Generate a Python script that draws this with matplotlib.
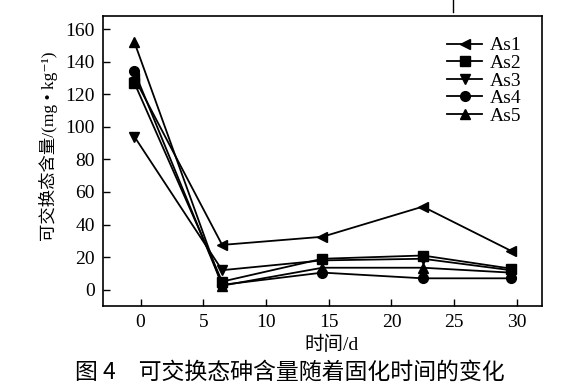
import matplotlib
matplotlib.use("Agg")
import matplotlib.pyplot as plt
from matplotlib.lines import Line2D

# curing time (d) and exchangeable As content (mg/kg)
days = [-0.5, 6.5, 14.5, 22.5, 29.5]
as1 = [130, 27.5, 32.5, 51, 24]
as2 = [127, 5, 19, 21, 13]
as3 = [94, 12, 18, 19, 12]
as4 = [134, 3, 10.5, 7, 7]
as5 = [152, 2.5, 13.5, 13.5, 10.5]
names = ["As1", "As2", "As3", "As4", "As5"]
markers = ["<", "s", "v", "o", "^"]

fams = ['Liberation Serif', 'Noto Sans CJK SC', 'DejaVu Serif']
plt.rcParams['font.family'] = fams

fig = plt.figure(figsize=(5.69, 3.88), dpi=100)
ax = fig.add_axes([0.181, 0.2113, 0.7715, 0.7475])

for vals, nm, mk in zip([as1, as2, as3, as4, as5], names, markers):
    ax.plot(days, vals, color='black', lw=1.3, marker=mk, ms=7, label=nm)

ax.set_xlim(-3, 32)
ax.set_ylim(-10, 168)
ax.set_xticks([0, 5, 10, 15, 20, 25, 30])
ax.set_yticks(range(0, 161, 20))
ax.tick_params(direction='in', length=5, width=1, labelsize=14, pad=6)
for sp in ax.spines.values():
    sp.set_linewidth(1.2)

ax.set_xlabel("时间/d", fontsize=14, labelpad=3, x=0.52)
ax.set_ylabel("可交换态含量/(mg • kg⁻¹)", fontsize=12.5, labelpad=5, y=0.55)

leg = ax.legend(loc='upper right', frameon=False, fontsize=14, handlelength=1.8,
                labelspacing=0.0, handletextpad=0.4, borderaxespad=0.3,
                bbox_to_anchor=(0.985, 0.975))

fig.text(75 / 569, 0.041, "图 4　可交换态砷含量随着固化时间的变化", ha='left', va='center',
         fontsize=16.5, family=['Noto Sans CJK SC', 'DejaVu Sans'])

# page artifact: small vertical line at top
fig.add_artist(Line2D([453 / 569, 453 / 569], [1, 1 - 12 / 388], color='black', lw=1))

fig.savefig("out.png", dpi=100)
